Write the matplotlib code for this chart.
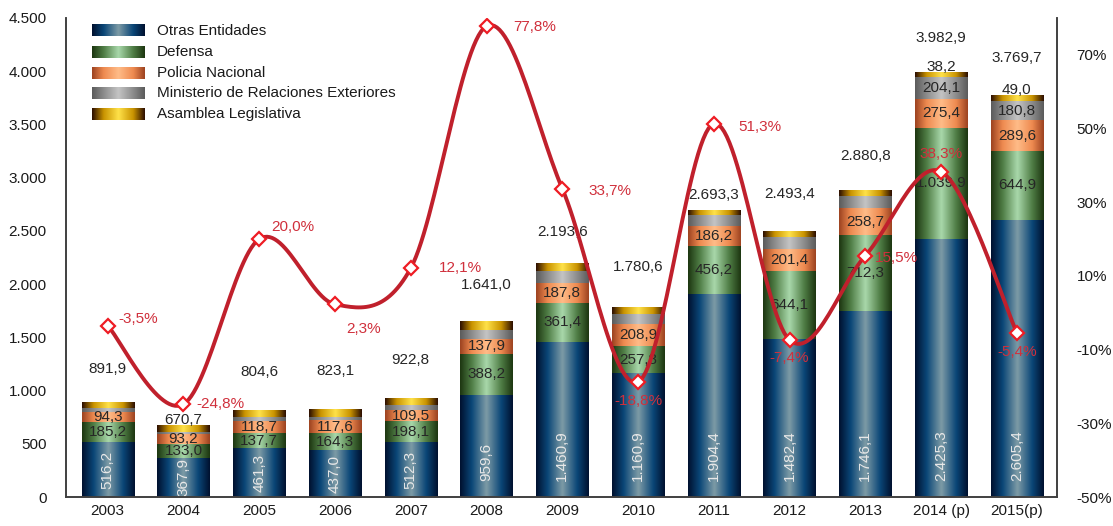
import numpy as np
import matplotlib
matplotlib.use("Agg")
from matplotlib import pyplot as plt
from matplotlib.colors import LinearSegmentedColormap

plt.rcParams['font.family'] = ['Liberation Sans', 'DejaVu Sans']

years = ['2003', '2004', '2005', '2006', '2007', '2008', '2009', '2010',
         '2011', '2012', '2013', '2014 (p)', '2015(p)']
otras = [516.2, 367.9, 461.3, 437.0, 512.3, 959.6, 1460.9, 1160.9, 1904.4, 1482.4, 1746.1, 2425.3, 2605.4]
defensa = [185.2, 133.0, 137.7, 164.3, 198.1, 388.2, 361.4, 257.8, 456.2, 644.1, 712.3, 1039.9, 644.9]
policia = [94.3, 93.2, 118.7, 117.6, 109.5, 137.9, 187.8, 208.9, 186.2, 201.4, 258.7, 275.4, 289.6]
ministerio = [45.0, 20.0, 30.0, 35.0, 40.0, 80.0, 115.0, 95.0, 100.0, 115.0, 115.0, 204.1, 180.8]
asamblea = [51.2, 56.6, 56.9, 69.2, 62.9, 75.3, 68.5, 58.0, 46.5, 50.5, 48.7, 38.2, 49.0]
totales = [891.9, 670.7, 804.6, 823.1, 922.8, 1641.0, 2193.6, 1780.6, 2693.3, 2493.4, 2880.8, 3982.9, 3769.7]
variacion = [-3.5, -24.8, 20.0, 2.3, 12.1, 77.8, 33.7, -18.8, 51.3, -7.4, 15.5, 38.3, -5.4]

series_names = ['Otras Entidades', 'Defensa', 'Policia Nacional',
                'Ministerio de Relaciones Exteriores', 'Asamblea Legislativa']
series = [otras, defensa, policia, ministerio, asamblea]
# which segments carry a value label
show_label = [[True] * 13, [True] * 13, [True] * 13,
              [False] * 11 + [True, True], [False] * 11 + [True, True]]

# gradient stops: edge, mid, centre
grad_colors = [
    ['#00102e', '#0a4677', '#7d9ba6', '#0a4677', '#00102e'],
    ['#1c3510', '#4f7d45', '#a9d8ab', '#4f7d45', '#1c3510'],
    ['#9c4220', '#ee8a50', '#ffbc88', '#ee8a50', '#9c4220'],
    ['#5a5a5a', '#8c8c8c', '#c4c4c4', '#8c8c8c', '#5a5a5a'],
    ['#2a0c00', '#c99300', '#ffe24a', '#c99300', '#2a0c00'],
]
cmaps = [LinearSegmentedColormap.from_list('g%d' % i,
                                           list(zip([0, 0.22, 0.5, 0.78, 1], c)))
         for i, c in enumerate(grad_colors)]
grad = np.linspace(0, 1, 256)[np.newaxis, :]


def fmt(v):
    s = f"{v:,.1f}"
    return s.replace(',', 'X').replace('.', ',').replace('X', '.')


fig = plt.figure(figsize=(11.13, 5.26), dpi=100)
ax = fig.add_axes([0.0593, 0.0551, 0.8904, 0.9107])

x = np.arange(len(years))
w = 0.69
bottom = np.zeros(len(years))
for k, vals in enumerate(series):
    for i in range(len(years)):
        b = bottom[i]
        v = vals[i]
        ax.imshow(grad, cmap=cmaps[k], extent=[x[i] - w / 2, x[i] + w / 2, b, b + v],
                  aspect='auto', interpolation='bicubic', zorder=2)
        if not show_label[k][i]:
            continue
        if k == 0:
            if v < 700:
                ax.text(x[i], b + v / 2, fmt(v), rotation=90, ha='center', va='center',
                        color='#e8e8e8', fontsize=11, zorder=3)
            else:
                ax.text(x[i], 150, fmt(v), rotation=90, ha='center', va='bottom',
                        color='#e8e8e8', fontsize=11, zorder=3)
        elif k == 4:
            ax.text(x[i], b + v - 10, fmt(v), ha='center', va='bottom',
                    color='#262626', fontsize=11, zorder=3)
        else:
            ax.text(x[i], b + v / 2, fmt(v), ha='center', va='center',
                    color='#262626', fontsize=11, zorder=3)
    bottom += np.array(vals)

# total labels
tot_offset = [24, 4, 28, 28, 28, 27, 23, 29, 11, 27, 25, 25, 27]
for i, t in enumerate(totales):
    ax.annotate(fmt(t), (x[i], t), xytext=(0, tot_offset[i]), textcoords='offset points',
                ha='center', va='center', fontsize=11, color='#262626', zorder=3)

ax.set_xticks(x)
ax.set_xticklabels(years)
ax.set_yticks(np.arange(0, 4501, 500))
ax.set_yticklabels([fmt(v)[:-2] for v in np.arange(0, 4501, 500)])
ax.tick_params(axis='both', length=0, labelsize=11, colors='#1a1a1a')
ax.tick_params(axis='y', pad=14)
ax.tick_params(axis='x', pad=5)
for s in ['left', 'bottom', 'right']:
    ax.spines[s].set_color('#404040')
    ax.spines[s].set_linewidth(1.2)
ax.spines['top'].set_visible(False)

# legend drawn by hand so the keys keep the gradient
leg_y = [0.973, 0.929, 0.885, 0.843, 0.799]
for k, name in enumerate(series_names):
    y0 = leg_y[k]
    ax.imshow(grad, cmap=cmaps[k], extent=[0.0263, 0.0788, y0 - 0.0115, y0 + 0.0115],
              transform=ax.transAxes, aspect='auto', interpolation='bicubic', zorder=4)
    ax.text(0.0919, y0, name, transform=ax.transAxes, ha='left', va='center',
            fontsize=11, color='#1a1a1a', zorder=4)
ax.set_xlim(-0.55, 12.53)
ax.set_ylim(0, 4500)

# growth line on secondary axis
ax2 = ax.twinx()
ax2.set_ylim(-0.5, 0.8)
ax2.set_yticks(np.arange(-0.5, 0.71, 0.2))
ax2.set_yticklabels(['%d%%' % round(v * 100) for v in np.arange(-0.5, 0.71, 0.2)])
ax2.tick_params(axis='y', length=0, labelsize=11, colors='#1a1a1a', pad=14)
for s in ['left', 'bottom', 'right']:
    ax2.spines[s].set_color('#404040')
    ax2.spines[s].set_linewidth(1.2)
ax2.spines['top'].set_visible(False)

# smooth curve (Catmull-Rom style bezier, like office smoothed lines)
px = x.astype(float)
py = np.array(variacion) / 100.0
cx, cy = [], []
n = len(px)
t = np.linspace(0, 1, 30)
for i in range(n - 1):
    p0 = (px[max(i - 1, 0)], py[max(i - 1, 0)])
    p1 = (px[i], py[i])
    p2 = (px[i + 1], py[i + 1])
    p3 = (px[min(i + 2, n - 1)], py[min(i + 2, n - 1)])
    c1 = (p1[0] + (p2[0] - p0[0]) / 6, p1[1] + (p2[1] - p0[1]) / 6)
    c2 = (p2[0] - (p3[0] - p1[0]) / 6, p2[1] - (p3[1] - p1[1]) / 6)
    bx = (1 - t) ** 3 * p1[0] + 3 * (1 - t) ** 2 * t * c1[0] + 3 * (1 - t) * t ** 2 * c2[0] + t ** 3 * p2[0]
    by = (1 - t) ** 3 * p1[1] + 3 * (1 - t) ** 2 * t * c1[1] + 3 * (1 - t) * t ** 2 * c2[1] + t ** 3 * p2[1]
    cx.extend(bx)
    cy.extend(by)
ax2.plot(cx, cy, color='#c0202c', linewidth=2.8, zorder=5, solid_capstyle='round')
ax2.plot(px, py, linestyle='none', marker='D', markersize=7.5, markerfacecolor='white',
         markeredgecolor='#ee1c24', markeredgewidth=1.6, zorder=6)

pct_off = [(8, 5, 'left'), (9, 0, 'left'), (9, 9, 'left'), (8, -18, 'left'),
           (20, 0, 'left'), (19, -1, 'left'), (19, -2, 'left'), (0, -14, 'center'),
           (18, -2, 'left'), (0, -13, 'center'), (7, -2, 'left'), (0, 13, 'center'),
           (0, -14, 'center')]
for i, v in enumerate(variacion):
    dx, dy, ha = pct_off[i]
    ax2.annotate(fmt(v) + '%', (px[i], py[i]), xytext=(dx, dy), textcoords='offset points',
                 ha=ha, va='center', fontsize=11, color='#d0303c', zorder=7)

fig.savefig('out.png', dpi=100)
